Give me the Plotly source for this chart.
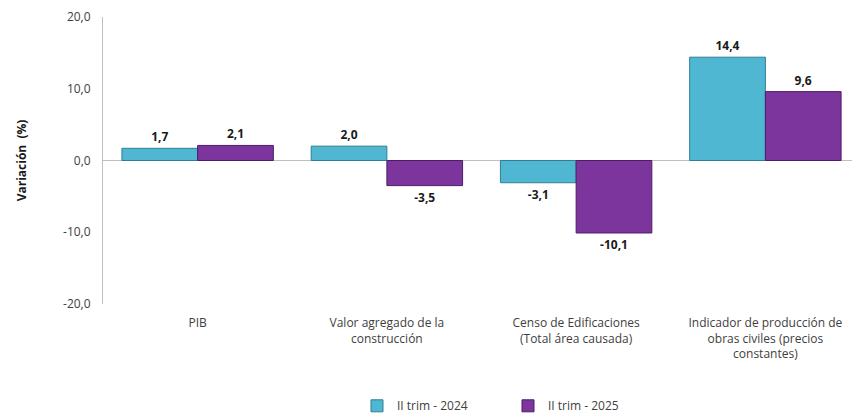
import plotly.graph_objects as go

categories = ["PIB", "Valor agregado de la<br>construcción",
              "Censo de Edificaciones<br>(Total área causada)",
              "Indicador de producción de<br>obras civiles (precios<br>constantes)"]
series_2024 = [1.7, 2.0, -3.1, 14.4]
series_2025 = [2.1, -3.5, -10.1, 9.6]
names = ["II trim - 2024", "II trim - 2025"]
y_ticks = [-20, -10, 0, 10, 20]

def fmt(v):
    return f"{v:.1f}".replace(".", ",")

fig = go.Figure()
fig.add_bar(x=categories, y=series_2024, name=names[0],
            marker=dict(color="#4FB7D1", line=dict(color="#2E7F93", width=1)),
            text=[fmt(v) for v in series_2024], textposition="outside",
            textfont=dict(family="Open Sans", size=12, color="#1a1a1a", weight="bold"),
            cliponaxis=False)
fig.add_bar(x=categories, y=series_2025, name=names[1],
            marker=dict(color="#7D359E", line=dict(color="#4E1C66", width=1)),
            text=[fmt(v) for v in series_2025], textposition="outside",
            textfont=dict(family="Open Sans", size=12, color="#1a1a1a", weight="bold"),
            cliponaxis=False)

fig.update_layout(
    width=852, height=408,
    margin=dict(l=95, r=0, t=9, b=112),
    barmode="group", bargap=0.2, bargroupgap=0,
    plot_bgcolor="white", paper_bgcolor="white",
    separators=",.",
    font=dict(family="Open Sans", size=12, color="#333333"),
    showlegend=True,
    legend=dict(orientation="h", x=0.535, xanchor="center",
                yref="container", y=0.025, yanchor="middle",
                font=dict(size=12, color="#404040"), traceorder="normal",
                entrywidth=106, itemwidth=30),
    xaxis=dict(showline=False, ticks="", automargin=False, ticklabelstandoff=10,
               tickfont=dict(size=12, color="#404040")),
    yaxis=dict(range=[-20, 20], tickvals=y_ticks, ticktext=[fmt(v) for v in y_ticks],
               automargin=False, ticklabelstandoff=9,
               showgrid=False, showline=True, linecolor="#BFBFBF", linewidth=1,
               zeroline=True, zerolinecolor="#BFBFBF", zerolinewidth=1,
               ticks="", tickfont=dict(size=12, color="#404040"),
               title=dict(text="<b>Variación  (%)</b>", font=dict(size=12, color="#1a1a1a"),
                          standoff=33)),
)
fig.write_html("out.html")
